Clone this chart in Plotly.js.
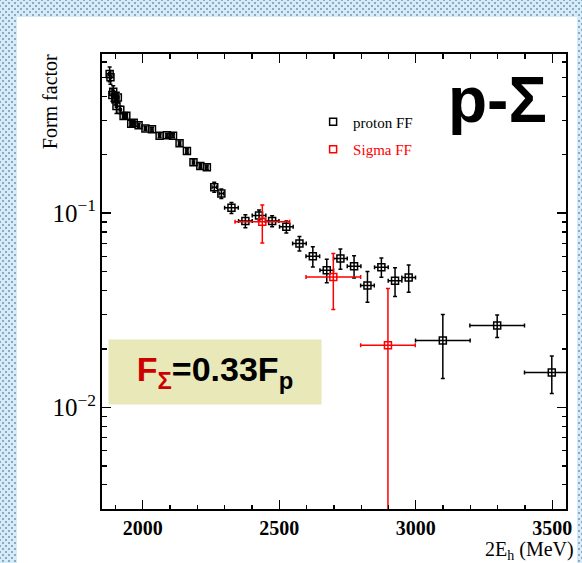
<!DOCTYPE html>
<html>
<head>
<meta charset="utf-8">
<script src="https://cdn.plot.ly/plotly-3.0.1.min.js"></script>
<style>
  html, body { margin:0; padding:0; }
  body {
    width:582px; height:563px; overflow:hidden; position:relative;
    background-color:#d3ecfb;
    background-image:
      radial-gradient(circle, #93a9b9 0.9px, rgba(0,0,0,0) 1.3px),
      radial-gradient(circle, #93a9b9 0.9px, rgba(0,0,0,0) 1.3px);
    background-size:6px 6px, 6px 6px;
    background-position:0 0, 3px 3px;
  }
  #panel { position:absolute; left:17px; top:17px; width:560px; height:546px; background:#ffffff; }
  #chart { position:absolute; left:0; top:0; width:582px; height:563px; }
</style>
</head>
<body>
<div id="panel"></div>
<div id="chart"></div>
<script>
// ---- data ----
const protonE = [1879,1882,1892,1889,1909,1900,1904,1918,1930,1940,1958,1967,1985,2010,2034,2062,2089,2111,2135,2162,2186,2211,2235,2262,2288,2325,2376,2426,2474,2526,2574,2623,2674,2724,2774,2823,2874,2924,2974,3099,3298,3498];
const protonFF = [0.520,0.500,0.422,0.406,0.394,0.385,0.356,0.340,0.316,0.317,0.288,0.292,0.283,0.273,0.270,0.250,0.252,0.250,0.229,0.209,0.183,0.175,0.172,0.136,0.126,0.1065,0.091,0.0973,0.091,0.085,0.0698,0.060,0.0508,0.0584,0.0533,0.0424,0.0527,0.0448,0.0466,0.0221,0.0264,0.0151];
const protonFFerr = [0.045,0.04,0.03,0.03,0.025,0.025,0.03,0.015,0.01,0.008,0.008,0.008,0.007,0.007,0.007,0.006,0.006,0.006,0.006,0.006,0.006,0.005,0.005,0.008,0.007,0.007,0.007,0.0065,0.006,0.006,0.006,0.0072,0.007,0.007,0.007,0.0076,0.006,0.0076,0.0075,0.008,0.0035,0.0033];
const protonEerr = [4,4,4,4,4,4,4,4,4,4,4,4,4,4,4,4,4,4,4,4,4,4,4,8,8,25,25,25,25,25,25,25,25,25,25,25,25,25,25,100,100,100];

const sigmaE = [2438,2698,2898];
const sigmaFF = [0.0902,0.0469,0.0209];
const sigmaFFerr = [0.020,0.015,0.020];
const sigmaEerr = [100,100,100];

const xTickVals = [2000,2500,3000,3500];
const seriesNames = ['proton FF','Sigma FF'];

const serif = 'Liberation Serif';
const sans = 'Liberation Sans';

function errTrace(x, y, ex, ey, color, name, group) {
  return {
    type:'scatter', mode:'markers', x:x, y:y, name:name, legendgroup:group,
    marker:{symbol:'square-open', size:7, color:color, line:{width:1.5, color:color}},
    error_x:{type:'data', array:ex, visible:true, color:color, thickness:1.5, width:2},
    error_y:{type:'data', array:ey, visible:true, color:color, thickness:1.5, width:2},
    cliponaxis:true
  };
}

const traces = [
  errTrace(protonE, protonFF, protonEerr, protonFFerr, '#000000', seriesNames[0], 'p'),
  errTrace(sigmaE, sigmaFF, sigmaEerr, sigmaFFerr, '#ff0000', '<span style="color:#ff0000">' + seriesNames[1] + '</span>', 's')
];

const axisCommon = {
  showgrid:false, zeroline:false, showline:true, linecolor:'#000', linewidth:2,
  mirror:'ticks', ticks:'inside', ticklen:9, tickwidth:1.3, tickcolor:'#000',
  tickfont:{family:serif, size:20, color:'#000', weight:'bold'}
};

const layout = {
  width:582, height:563,
  margin:{l:102, r:16, t:54, b:54},
  paper_bgcolor:'rgba(0,0,0,0)', plot_bgcolor:'#ffffff',
  showlegend:true,
  legend:{x:0.455, xanchor:'left', y:0.887, yanchor:'top', bgcolor:'rgba(0,0,0,0)',
          font:{family:serif, size:15, color:'#000'}, traceorder:'grouped', tracegroupgap:5},
  xaxis:Object.assign({}, axisCommon, {
    range:[1851, 3550], tickmode:'array', tickvals:xTickVals, ticktext:xTickVals.map(String),
    minor:{dtick:100, ticks:'inside', ticklen:4.5, tickwidth:1.3, tickcolor:'#000'}
  }),
  yaxis:Object.assign({}, axisCommon, {
    type:'log', range:[-2.523, -0.181], dtick:1, exponentformat:'power',
    tickfont:{family:serif, size:20, color:'#000'},
    minor:{dtick:'D1', ticks:'inside', ticklen:4.5, tickwidth:1.3, tickcolor:'#000'}
  }),
  annotations:[
    {xref:'paper', yref:'paper', x:0, y:0.894, xshift:-52, xanchor:'center', yanchor:'middle',
     textangle:-90, text:'Form factor', showarrow:false, font:{family:serif, size:20, color:'#000'}},
    {xref:'paper', yref:'paper', x:1, y:0, xshift:10, yshift:-27, xanchor:'right', yanchor:'top',
     text:'2E<sub>h</sub> (MeV)', showarrow:false, font:{family:serif, size:20, color:'#000'}},
    {xref:'paper', yref:'paper', x:0.853, y:0.899, xanchor:'center', yanchor:'middle',
     text:'<b>p-Σ</b>', showarrow:false, font:{family:sans, size:64, color:'#000'}},
    {xref:'paper', yref:'paper', x:0.0129, y:0.3736, xanchor:'left', yanchor:'top',
     width:212, height:64, borderpad:0, bgcolor:'#e8e8b8', align:'center', valign:'middle',
     text:'<b><span style="color:#cc0000">F<sub>Σ</sub></span>=0.33F<sub>p</sub></b>',
     showarrow:false, font:{family:sans, size:34, color:'#000'}}
  ]
};

Plotly.newPlot('chart', traces, layout, {displayModeBar:false, staticPlot:true});
</script>
</body>
</html>
